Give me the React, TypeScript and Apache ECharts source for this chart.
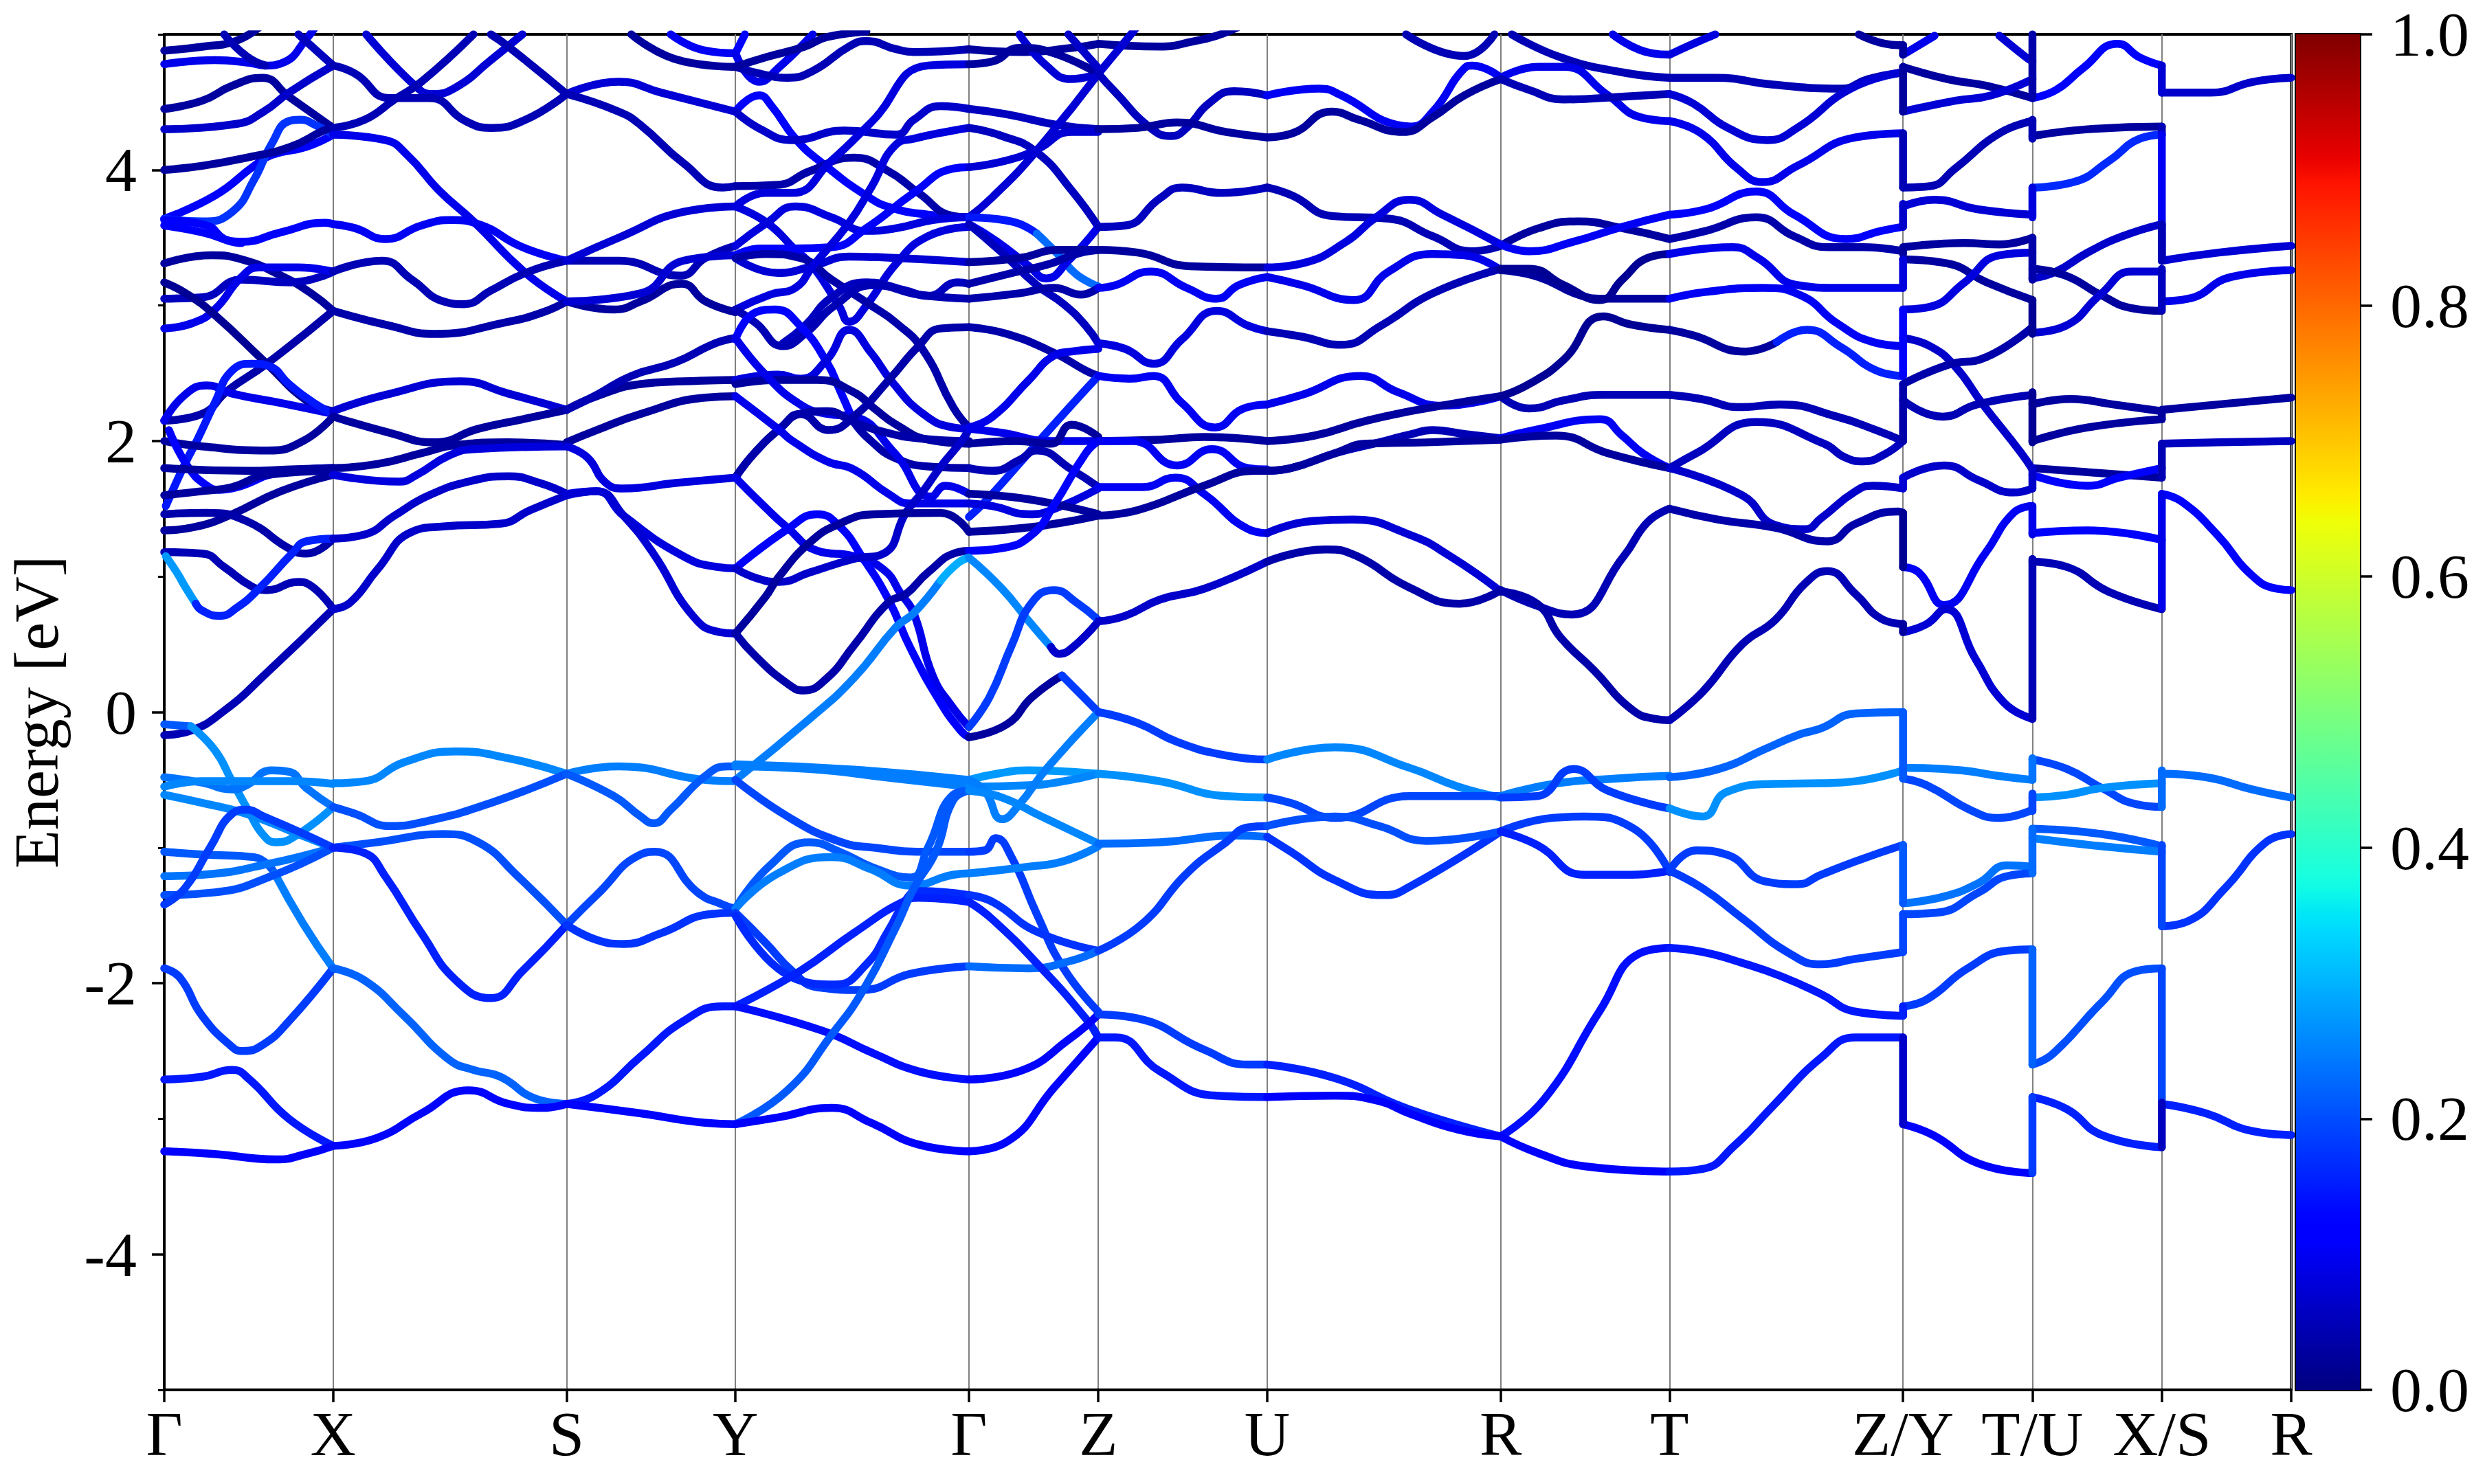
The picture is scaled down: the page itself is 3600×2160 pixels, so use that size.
import React, { useEffect, useRef } from "react";
import * as echarts from "echarts";

// High-symmetry points on the k-path
const kTicks = [0, 107, 255, 362, 510, 592, 699, 847, 954, 1102, 1184, 1266, 1348];
const kLabels = ["Γ", "X", "S", "Y", "Γ", "Z", "U", "R", "T", "Z/Y", "T/U", "X/S", "R"];
const energyMajor = [-4, -2, 0, 2, 4];
const energyMinor = [-5, -3, -1, 1, 3, 5];
const colorbarTicks = [0, 0.2, 0.4, 0.6, 0.8, 1];

// Every curve: [weight, k, E, k, E, ...]
const segGammaX: number[][] = [
  [0.03, 0, 4.88, 25, 4.91, 45, 4.95, 60, 5.05],
  [0.1, 0, 4.78, 32, 4.81, 54, 4.79, 64, 4.77, 75, 4.79, 91, 4.98, 98, 5.1],
  [0.05, 38, 5.0, 52, 4.84, 64, 4.77],
  [0.06, 85, 5.0, 107, 4.77],
  [0.03, 0, 4.45, 24, 4.51, 43, 4.62, 62, 4.68, 79, 4.54, 107, 4.31],
  [0.07, 0, 4.3, 46, 4.34, 63, 4.43, 79, 4.57, 107, 4.77],
  [0.12, 0, 3.64, 32, 3.81, 57, 4.03, 68, 4.11, 90, 4.17, 107, 4.26],
  [0.19, 0, 3.64, 24, 3.62, 43, 3.69, 57, 3.93, 68, 4.19, 79, 4.36, 86, 4.37, 96, 4.33, 107, 4.26],
  [0.03, 0, 4.0, 24, 4.03, 52, 4.09, 80, 4.17, 101, 4.29, 107, 4.31],
  [0.12, 0, 3.59, 24, 3.54, 49, 3.47, 74, 3.54, 102, 3.61, 107, 3.6],
  [0.13, 0, 3.63, 27, 3.59, 38, 3.49, 49, 3.46],
  [0.03, 0, 3.31, 30, 3.37, 49, 3.34, 74, 3.22, 93, 3.09, 107, 2.96],
  [0.06, 0, 3.05, 24, 3.06, 49, 3.19, 80, 3.17, 107, 3.25],
  [0.1, 0, 2.83, 18, 2.87, 32, 2.97, 49, 3.21, 60, 3.28, 85, 3.28, 107, 3.25],
  [0.02, 0, 3.17, 15, 3.08, 32, 2.93, 65, 2.57, 90, 2.3, 107, 2.22],
  [0.04, 0, 2.15, 24, 2.2, 40, 2.37, 65, 2.57, 107, 2.96],
  [0.1, 0, 2.15, 13, 2.34, 27, 2.41, 43, 2.35, 74, 2.28, 107, 2.2],
  [0.16, 1, 1.52, 13, 1.83, 21, 2.01, 32, 2.28, 43, 2.52, 56, 2.57, 67, 2.55, 79, 2.42, 95, 2.28, 107, 2.2],
  [0.03, 0, 2.0, 24, 1.96, 66, 1.93, 88, 2.0, 107, 2.18],
  [0.13, 3, 2.08, 15, 1.81, 27, 1.67, 35, 1.64, 43, 1.65, 74, 1.77, 107, 1.8],
  [0.03, 0, 1.8, 52, 1.78, 80, 1.79, 107, 1.8],
  [0.03, 0, 1.6, 24, 1.63, 43, 1.66, 65, 1.75, 107, 1.78],
  [0.03, 0, 1.34, 21, 1.37, 43, 1.46, 74, 1.63, 107, 1.75],
  [0.04, 0, 1.46, 27, 1.47, 52, 1.41, 82, 1.19, 90, 1.17, 107, 1.28],
  [0.05, 0, 1.18, 24, 1.17, 38, 1.07, 55, 0.93, 65, 0.9, 85, 0.96, 92, 0.94, 107, 0.76],
  [0.3, 1, 1.15, 8, 1.03, 13, 0.93, 20, 0.8],
  [0.17, 20, 0.8, 24, 0.75, 35, 0.71, 46, 0.77, 60, 0.91, 81, 1.17, 90, 1.26, 107, 1.28],
  [0.05, 0, -0.17, 16, -0.14, 38, 0.01, 65, 0.29, 107, 0.76],
  [0.23, 0, -0.09, 17, -0.105],
  [0.29, 17, -0.105, 32, -0.28, 43, -0.51, 53, -0.72, 63, -0.91, 71, -0.96, 85, -0.9, 107, -0.7],
  [0.26, 0, -0.48, 24, -0.52, 43, -0.57, 52, -0.54, 68, -0.43, 79, -0.44, 90, -0.56, 107, -0.7],
  [0.28, 0, -0.55, 24, -0.51, 80, -0.51, 107, -0.53],
  [0.28, 0, -0.61, 24, -0.67, 52, -0.75, 85, -0.9, 107, -1.0],
  [0.23, 0, -1.03, 24, -1.05, 57, -1.07, 70, -1.19],
  [0.27, 70, -1.19, 88, -1.56, 107, -1.89],
  [0.26, 0, -1.21, 24, -1.2, 66, -1.12, 107, -1.0],
  [0.22, 0, -1.35, 32, -1.33, 70, -1.2, 107, -1.0],
  [0.2, 0, -1.42, 13, -1.3, 29, -1.0, 43, -0.75, 52, -0.72, 63, -0.77, 85, -0.88, 107, -1.0],
  [0.2, 0, -1.89, 10, -1.96, 24, -2.24, 43, -2.47, 50, -2.5, 63, -2.45, 79, -2.28, 107, -1.89],
  [0.16, 0, -2.71, 24, -2.69, 43, -2.64, 54, -2.71, 79, -3.0, 107, -3.2],
  [0.12, 0, -3.24, 32, -3.26, 71, -3.3, 90, -3.26, 107, -3.2],
];

const segXS: number[][] = [
  [0.08, 128, 5.0, 160, 4.61, 170, 4.56, 185, 4.61, 207, 4.81, 227, 5.0],
  [0.05, 107, 4.77, 121, 4.71, 143, 4.53, 168, 4.53, 191, 4.36, 207, 4.31, 229, 4.37, 255, 4.56],
  [0.05, 107, 4.31, 127, 4.37, 146, 4.52, 163, 4.65, 196, 5.0],
  [0.05, 207, 5.0, 218, 4.91, 255, 4.56],
  [0.1, 107, 4.26, 140, 4.22, 154, 4.11, 174, 3.85, 196, 3.62, 229, 3.24, 255, 3.03],
  [0.11, 107, 3.6, 121, 3.57, 140, 3.49, 163, 3.59, 182, 3.63, 199, 3.6, 227, 3.43, 255, 3.33],
  [0.05, 107, 3.25, 138, 3.33, 157, 3.19, 177, 3.03, 190, 3.01, 207, 3.11, 229, 3.24, 255, 3.33],
  [0.04, 107, 2.96, 143, 2.85, 171, 2.79, 218, 2.88, 240, 2.95, 255, 3.03],
  [0.08, 107, 2.22, 140, 2.34, 188, 2.44, 218, 2.35, 255, 2.23],
  [0.03, 107, 2.18, 143, 2.06, 171, 1.99, 199, 2.09, 227, 2.16, 255, 2.23],
  [0.03, 107, 1.8, 135, 1.83, 163, 1.91, 185, 1.97, 218, 1.99, 255, 1.97],
  [0.09, 107, 1.75, 149, 1.7, 160, 1.75, 180, 1.89, 196, 1.94, 255, 1.96],
  [0.07, 107, 1.28, 127, 1.31, 146, 1.45, 168, 1.6, 196, 1.71, 218, 1.74, 238, 1.69, 255, 1.61],
  [0.07, 107, 0.76, 118, 0.81, 135, 1.05, 157, 1.33, 177, 1.37, 213, 1.39, 232, 1.49, 255, 1.6],
  [0.28, 107, -0.525, 127, -0.51, 152, -0.37, 185, -0.29, 218, -0.34, 255, -0.455],
  [0.22, 107, -0.7, 121, -0.75, 143, -0.84, 168, -0.8, 207, -0.67, 255, -0.455],
  [0.22, 107, -1.0, 135, -0.96, 177, -0.9, 199, -0.96, 224, -1.21, 255, -1.57],
  [0.17, 107, -1.0, 127, -1.04, 140, -1.21, 163, -1.63, 185, -1.98, 207, -2.11, 227, -1.91, 255, -1.57],
  [0.24, 107, -1.89, 127, -1.98, 152, -2.24, 180, -2.56, 196, -2.64, 213, -2.69, 235, -2.85, 255, -2.89],
  [0.14, 107, -3.2, 135, -3.14, 163, -2.96, 193, -2.79, 218, -2.89, 240, -2.92, 255, -2.89],
];

const segSY: number[][] = [
  [0.08, 255, 4.56, 288, 4.65, 315, 4.57, 362, 4.43],
  [0.05, 255, 4.56, 288, 4.43, 302, 4.33, 329, 4.05, 354, 3.87, 362, 3.88],
  [0.03, 296, 5.0, 329, 4.8, 362, 4.76],
  [0.11, 321, 5.0, 343, 4.88, 362, 4.86],
  [0.05, 255, 3.33, 288, 3.33, 327, 3.22, 343, 3.35, 362, 3.44],
  [0.08, 255, 3.33, 290, 3.51, 329, 3.69, 362, 3.73],
  [0.03, 255, 3.03, 285, 2.97, 302, 3.03, 328, 3.16, 343, 3.03, 362, 2.95],
  [0.08, 255, 3.03, 302, 3.09, 329, 3.33, 362, 3.37],
  [0.03, 255, 2.23, 274, 2.33, 302, 2.42, 329, 2.44, 362, 2.45],
  [0.05, 255, 2.23, 274, 2.34, 296, 2.48, 324, 2.58, 349, 2.72, 362, 2.76],
  [0.03, 255, 1.99, 274, 2.08, 302, 2.2, 343, 2.32, 362, 2.33],
  [0.09, 255, 1.96, 268, 1.88, 280, 1.69, 291, 1.65, 324, 1.69, 362, 1.73],
  [0.09, 255, 1.61, 274, 1.63, 291, 1.45, 329, 1.15, 351, 1.07, 362, 1.06],
  [0.08, 255, 1.6, 274, 1.63, 291, 1.45, 310, 1.17, 335, 0.71, 352, 0.59, 362, 0.58],
  [0.27, 255, -0.455, 288, -0.4, 343, -0.5, 362, -0.51],
  [0.23, 255, -0.455, 285, -0.62, 302, -0.77, 310, -0.82, 321, -0.72, 343, -0.47, 357, -0.4, 362, -0.4],
  [0.21, 255, -1.57, 274, -1.35, 302, -1.05, 311, -1.03, 338, -1.33, 354, -1.42, 362, -1.45],
  [0.19, 255, -1.57, 274, -1.68, 291, -1.71, 315, -1.63, 346, -1.49, 362, -1.48],
  [0.16, 255, -2.89, 274, -2.82, 302, -2.54, 329, -2.28, 354, -2.17, 362, -2.17],
  [0.14, 255, -2.89, 302, -2.96, 343, -3.03, 362, -3.04],
];

const segYGamma: number[][] = [
  [0.12, 362, 4.86, 368, 5.0],
  [0.1, 362, 4.86, 377, 4.65, 389, 4.75, 411, 5.0],
  [0.05, 362, 4.76, 381, 4.7, 395, 4.68, 411, 4.73, 434, 4.91, 445, 4.95, 464, 4.89, 475, 4.87, 510, 4.89],
  [0.03, 362, 4.76, 381, 4.83, 406, 4.91, 420, 4.98, 445, 5.02],
  [0.12, 362, 4.43, 377, 4.55, 385, 4.47, 400, 4.23, 417, 4.05, 445, 3.81, 461, 3.72, 484, 3.67, 510, 3.65],
  [0.07, 362, 4.43, 378, 4.3, 398, 4.22, 431, 4.29, 464, 4.26, 475, 4.37, 492, 4.47, 510, 4.45],
  [0.04, 362, 3.88, 389, 3.89, 409, 3.99, 437, 4.09, 459, 3.99, 478, 3.83, 500, 3.66, 510, 3.65],
  [0.09, 362, 3.73, 381, 3.83, 398, 3.83, 423, 4.07, 448, 4.35, 484, 4.77, 510, 4.78],
  [0.09, 362, 3.73, 382, 3.61, 400, 3.41, 411, 3.29, 428, 2.99, 434, 2.88, 445, 3.0, 464, 3.31, 484, 3.51, 510, 3.58],
  [0.09, 362, 3.44, 382, 3.61, 400, 3.73, 423, 3.65, 445, 3.55, 464, 3.57, 487, 3.63, 510, 3.65],
  [0.13, 362, 3.37, 378, 3.42, 398, 3.42, 423, 3.43, 445, 3.57, 475, 3.83, 500, 4.01, 510, 4.02],
  [0.08, 362, 3.35, 389, 3.24, 411, 3.29, 434, 3.36, 464, 3.35, 510, 3.32],
  [0.04, 362, 3.35, 381, 3.38, 403, 3.35, 423, 3.19, 448, 3.0, 464, 2.87, 481, 2.67, 500, 2.25, 510, 2.1],
  [0.09, 362, 2.97, 384, 3.08, 400, 3.13, 411, 3.29, 434, 3.61, 448, 3.87, 464, 4.19, 475, 4.23, 495, 4.28, 510, 4.31],
  [0.06, 392, 2.72, 406, 2.85, 423, 3.06, 445, 3.17, 470, 3.11, 484, 3.07, 503, 3.17, 510, 3.16],
  [0.05, 362, 2.97, 375, 2.87, 392, 2.7, 406, 2.79, 425, 3.0, 450, 3.15, 478, 3.08, 510, 3.05],
  [0.13, 362, 2.75, 375, 2.95, 387, 2.97, 403, 2.85, 420, 2.58, 428, 2.38, 437, 2.14],
  [0.04, 437, 2.14, 447, 2.01, 464, 1.87, 487, 1.81, 510, 1.8],
  [0.09, 362, 2.45, 389, 2.49, 403, 2.46, 420, 2.6, 434, 2.82, 448, 2.65, 461, 2.44, 481, 2.2, 500, 2.1, 510, 2.09],
  [0.03, 362, 2.42, 389, 2.45, 414, 2.45, 437, 2.36, 450, 2.24, 464, 2.12, 484, 2.01, 510, 1.98],
  [0.1, 362, 2.76, 381, 2.49, 403, 2.27, 420, 2.2, 437, 2.18, 463, 1.91, 486, 1.59, 495, 1.67, 510, 1.61],
  [0.04, 362, 1.73, 374, 1.91, 391, 2.1, 403, 2.2, 420, 2.22, 437, 2.14, 455, 2.07, 478, 2.02, 510, 2.0],
  [0.04, 362, 1.73, 374, 1.91, 391, 2.1, 403, 2.2, 421, 2.08, 437, 2.18, 460, 2.46, 478, 2.7, 492, 2.83, 510, 2.84],
  [0.1, 362, 1.73, 381, 1.51, 395, 1.36, 414, 1.19, 437, 1.15, 456, 1.05, 467, 0.87, 475, 0.73, 487, 0.27, 500, 0.03, 510, -0.11],
  [0.1, 362, 2.33, 390, 2.08, 397, 2.01, 420, 1.85, 437, 1.79, 459, 1.61, 473, 1.54, 510, 1.54],
  [0.12, 362, 1.06, 395, 1.35, 414, 1.46, 428, 1.37, 442, 1.15, 459, 0.83, 473, 0.47, 492, 0.07, 505, -0.14, 510, -0.185],
  [0.07, 362, 1.06, 375, 0.99, 389, 0.96, 409, 1.03, 437, 1.13, 456, 1.17, 470, 1.47, 481, 1.63, 492, 1.81, 506, 2.01, 510, 2.09],
  [0.03, 362, 0.58, 381, 0.85, 389, 0.99, 409, 1.25, 428, 1.39, 450, 1.46, 492, 1.47, 510, 1.33],
  [0.04, 362, 0.58, 375, 0.41, 395, 0.21, 405, 0.16, 420, 0.25, 437, 0.49, 459, 0.81, 470, 0.87, 484, 1.03, 503, 1.18, 510, 1.19],
  [0.27, 362, -0.5, 409, -0.05, 437, 0.25, 464, 0.63, 475, 0.73, 492, 0.97],
  [0.32, 492, 0.97, 503, 1.1, 510, 1.14],
  [0.27, 362, -0.385, 437, -0.425, 510, -0.5],
  [0.27, 362, -0.4, 409, -0.42, 464, -0.49, 510, -0.55],
  [0.21, 362, -0.5, 395, -0.77, 428, -0.955, 450, -1.0, 481, -1.03, 510, -1.03],
  [0.23, 362, -1.45, 384, -1.13, 409, -0.96, 428, -1.03, 450, -1.15, 473, -1.22, 484, -1.0, 500, -0.61, 510, -0.58],
  [0.27, 362, -1.45, 389, -1.19, 423, -1.07, 448, -1.16, 473, -1.28, 500, -1.2, 510, -1.19],
  [0.2, 362, -1.48, 381, -1.7, 398, -1.91, 414, -2.03, 442, -2.05, 473, -1.93, 510, -1.875],
  [0.18, 362, -1.5, 403, -1.98, 425, -2.01, 445, -1.86, 459, -1.61, 471, -1.37, 478, -1.32, 510, -1.35],
  [0.17, 362, -2.17, 403, -1.91, 437, -1.63, 470, -1.39, 478, -1.37, 510, -1.4],
  [0.15, 362, -2.17, 417, -2.35, 450, -2.52, 478, -2.65, 510, -2.71],
  [0.23, 362, -3.04, 395, -2.79, 423, -2.38, 442, -2.07, 464, -1.58, 475, -1.3, 489, -1.03, 500, -0.65, 510, -0.58],
  [0.13, 362, -3.04, 389, -2.99, 423, -2.92, 448, -3.03, 478, -3.19, 510, -3.24],
];

const segGammaZ: number[][] = [
  [0.03, 510, 4.89, 545, 4.87, 575, 4.9, 592, 4.93],
  [0.08, 542, 5.0, 559, 4.77, 575, 4.67, 592, 4.71],
  [0.03, 510, 4.78, 525, 4.8, 542, 4.9, 564, 4.86, 592, 4.71],
  [0.07, 573, 5.0, 592, 4.75],
  [0.06, 510, 4.45, 534, 4.41, 567, 4.33, 592, 4.3],
  [0.06, 510, 4.31, 531, 4.25, 553, 4.13, 575, 3.85, 592, 3.58],
  [0.08, 510, 4.02, 534, 4.07, 553, 4.15, 575, 4.28, 592, 4.28],
  [0.08, 510, 3.65, 525, 3.8, 552, 4.13, 592, 4.71],
  [0.16, 510, 3.65, 537, 3.62, 553, 3.53],
  [0.25, 553, 3.53, 567, 3.37, 578, 3.23, 592, 3.14],
  [0.1, 510, 3.6, 528, 3.47, 548, 3.29, 559, 3.2, 573, 3.33, 592, 3.58],
  [0.06, 510, 3.6, 530, 3.4, 553, 3.15, 570, 3.01, 584, 2.85, 592, 2.72],
  [0.03, 510, 3.32, 542, 3.35, 567, 3.41, 592, 3.41],
  [0.04, 510, 3.16, 534, 3.23, 562, 3.31, 578, 3.38, 592, 3.41],
  [0.04, 510, 3.05, 542, 3.09, 564, 3.13, 581, 3.08, 592, 3.13],
  [0.04, 510, 2.84, 534, 2.79, 564, 2.65, 584, 2.52, 592, 2.48],
  [0.1, 510, 2.1, 525, 2.18, 548, 2.45, 564, 2.63, 575, 2.66, 592, 2.68],
  [0.17, 510, 1.44, 520, 1.55, 531, 1.69, 553, 1.98, 573, 2.24, 592, 2.48],
  [0.1, 510, 2.09, 531, 2.06, 562, 2.0, 592, 2.0],
  [0.03, 510, 1.98, 540, 2.0, 562, 1.98, 575, 2.12, 592, 2.03],
  [0.05, 510, 1.8, 525, 1.78, 542, 1.86, 553, 1.93, 575, 1.79, 592, 1.66],
  [0.09, 510, 1.54, 525, 1.52, 548, 1.46, 562, 1.49, 592, 1.65],
  [0.03, 510, 1.61, 548, 1.57, 592, 1.46],
  [0.03, 510, 1.33, 553, 1.37, 592, 1.45],
  [0.12, 510, 1.19, 531, 1.21, 550, 1.31, 564, 1.53, 584, 1.91, 592, 2.0],
  [0.28, 510, 1.14, 531, 0.91, 548, 0.67, 562, 0.48],
  [0.07, 562, 0.48, 567, 0.43, 575, 0.47, 592, 0.67],
  [0.2, 510, -0.11, 523, 0.11, 537, 0.49, 550, 0.81, 564, 0.9, 578, 0.81, 592, 0.68],
  [0.03, 510, -0.185, 534, -0.09, 550, 0.11, 569, 0.27],
  [0.2, 569, 0.27, 581, 0.13, 592, 0.0],
  [0.3, 510, -0.5, 530, -0.45, 548, -0.43, 592, -0.455],
  [0.28, 510, -0.55, 548, -0.54, 570, -0.51, 592, -0.455],
  [0.27, 510, -0.5, 520, -0.58, 531, -0.79, 542, -0.68, 559, -0.42, 592, 0.0],
  [0.28, 510, -0.58, 531, -0.63, 556, -0.77, 592, -0.97],
  [0.2, 510, -1.03, 520, -1.02, 527, -0.93, 537, -1.07, 553, -1.49, 570, -1.89, 592, -2.21],
  [0.27, 510, -1.19, 548, -1.14, 570, -1.1, 592, -0.99],
  [0.19, 510, -1.35, 525, -1.4, 553, -1.62, 592, -1.76],
  [0.25, 510, -1.875, 548, -1.89, 573, -1.84, 592, -1.76],
  [0.17, 510, -1.4, 525, -1.53, 556, -1.89, 584, -2.26, 592, -2.4],
  [0.14, 510, -2.71, 542, -2.65, 575, -2.4, 592, -2.23],
  [0.14, 510, -3.24, 534, -3.17, 564, -2.77, 592, -2.4],
];

const segZU: number[][] = [
  [0.03, 592, 4.93, 631, 4.91, 653, 4.95, 667, 4.99, 680, 5.05],
  [0.08, 592, 4.71, 612, 4.99, 616, 5.05],
  [0.06, 592, 4.71, 603, 4.57, 625, 4.31, 638, 4.25, 648, 4.31, 662, 4.49, 678, 4.58, 699, 4.55],
  [0.03, 592, 4.3, 617, 4.31, 642, 4.35, 673, 4.28, 699, 4.24],
  [0.06, 592, 3.58, 609, 3.59, 631, 3.79, 645, 3.87, 670, 3.83, 699, 3.87],
  [0.03, 592, 3.41, 617, 3.39, 650, 3.29, 699, 3.28],
  [0.11, 592, 3.13, 603, 3.15, 625, 3.25, 648, 3.13, 667, 3.05, 681, 3.15, 699, 3.21],
  [0.09, 592, 2.72, 609, 2.68, 627, 2.57, 645, 2.75, 667, 2.96, 687, 2.85, 699, 2.81],
  [0.11, 592, 2.48, 612, 2.46, 627, 2.48, 645, 2.28, 666, 2.1, 684, 2.24, 699, 2.27],
  [0.03, 592, 2.0, 631, 2.01, 659, 2.03, 699, 2.0],
  [0.11, 592, 1.66, 620, 1.66, 641, 1.73, 659, 1.61, 687, 1.35, 699, 1.32],
  [0.11, 592, 2.0, 614, 2.0, 642, 1.82, 664, 1.94, 687, 1.8, 699, 1.79],
  [0.03, 592, 1.45, 617, 1.49, 659, 1.67, 692, 1.78, 699, 1.78],
  [0.07, 592, 0.67, 609, 0.71, 631, 0.83, 659, 0.91, 699, 1.11],
  [0.2, 592, 0.0, 617, -0.08, 642, -0.22, 673, -0.32, 699, -0.35],
  [0.29, 592, -0.455, 631, -0.51, 673, -0.62, 699, -0.63],
  [0.25, 592, -0.97, 631, -0.96, 678, -0.91, 699, -0.92],
  [0.2, 592, -1.76, 620, -1.56, 648, -1.19, 673, -0.96, 687, -0.85, 699, -0.84],
  [0.2, 592, -2.23, 617, -2.26, 659, -2.49, 687, -2.6, 699, -2.6],
  [0.16, 592, -2.4, 603, -2.4, 631, -2.65, 667, -2.83, 699, -2.84],
];

const segUR: number[][] = [
  [0.05, 787, 5.0, 824, 4.84, 843, 5.0],
  [0.11, 699, 4.55, 732, 4.6, 746, 4.55, 782, 4.33, 790, 4.32, 804, 4.43, 824, 4.75, 829, 4.77, 847, 4.68],
  [0.03, 699, 4.24, 715, 4.27, 740, 4.43, 757, 4.37, 785, 4.28, 804, 4.39, 824, 4.55, 847, 4.67],
  [0.05, 699, 3.87, 715, 3.81, 740, 3.66, 776, 3.64, 804, 3.51, 829, 3.4, 847, 3.44],
  [0.09, 699, 3.28, 721, 3.31, 749, 3.47, 768, 3.65, 789, 3.78, 810, 3.67, 847, 3.45],
  [0.1, 699, 3.21, 721, 3.15, 754, 3.04, 776, 3.25, 804, 3.38, 824, 3.37, 847, 3.26],
  [0.05, 699, 2.81, 721, 2.77, 746, 2.71, 771, 2.85, 804, 3.09, 847, 3.27],
  [0.1, 699, 2.27, 721, 2.34, 758, 2.48, 782, 2.36, 810, 2.26, 847, 2.33],
  [0.03, 699, 2.0, 729, 2.04, 762, 2.15, 804, 2.25, 847, 2.33],
  [0.05, 699, 1.78, 714, 1.8, 742, 1.91, 770, 1.99, 790, 2.05, 804, 2.08, 825, 2.05, 847, 2.02],
  [0.03, 699, 1.78, 714, 1.8, 742, 1.91, 762, 1.98, 800, 1.99, 847, 2.01],
  [0.08, 699, 1.32, 728, 1.41, 753, 1.42, 789, 1.31, 815, 1.15, 847, 0.89],
  [0.04, 699, 1.11, 736, 1.2, 756, 1.15, 789, 0.92, 821, 0.8, 847, 0.9],
  [0.28, 699, -0.35, 742, -0.26, 789, -0.41, 820, -0.55, 847, -0.63],
  [0.21, 699, -0.63, 714, -0.67, 742, -0.78, 789, -0.62, 820, -0.62, 847, -0.62],
  [0.19, 699, -0.92, 714, -1.03, 742, -1.24, 773, -1.35, 789, -1.29, 847, -0.88],
  [0.22, 699, -0.84, 742, -0.77, 770, -0.84, 800, -0.95, 847, -0.88],
  [0.17, 699, -2.6, 742, -2.7, 789, -2.93, 847, -3.13],
  [0.13, 699, -2.84, 742, -2.83, 770, -2.87, 789, -2.96, 820, -3.08, 847, -3.13],
];

const segRT: number[][] = [
  [0.05, 854, 5.0, 885, 4.83, 924, 4.72, 954, 4.68],
  [0.1, 918, 5.0, 943, 4.86, 954, 4.85],
  [0.1, 847, 4.68, 871, 4.76, 887, 4.76, 915, 4.55, 935, 4.39, 954, 4.36],
  [0.05, 847, 4.67, 865, 4.59, 887, 4.52, 924, 4.54, 954, 4.56],
  [0.03, 847, 3.44, 871, 3.57, 896, 3.62, 924, 3.57, 954, 3.49],
  [0.11, 847, 3.45, 865, 3.4, 893, 3.47, 924, 3.58, 954, 3.67],
  [0.03, 847, 3.26, 871, 3.21, 896, 3.08, 912, 3.05, 954, 3.05],
  [0.02, 847, 3.27, 865, 3.27, 887, 3.15, 910, 3.04, 924, 3.19, 940, 3.35, 954, 3.38],
  [0.05, 847, 2.33, 865, 2.24, 887, 2.3, 912, 2.34, 954, 2.34],
  [0.02, 847, 2.33, 865, 2.42, 887, 2.6, 912, 2.92, 929, 2.86, 954, 2.82],
  [0.11, 847, 2.02, 868, 2.08, 910, 2.16, 924, 2.04, 937, 1.91, 954, 1.8],
  [0.03, 847, 2.01, 882, 2.04, 915, 1.91, 954, 1.8],
  [0.05, 847, 0.9, 871, 0.78, 892, 0.72, 925, 1.15, 940, 1.4, 954, 1.5],
  [0.04, 847, 0.89, 870, 0.8, 885, 0.55, 906, 0.31, 930, 0.02, 945, -0.05, 954, -0.06],
  [0.27, 847, -0.62, 880, -0.53, 920, -0.49, 954, -0.47],
  [0.2, 847, -0.63, 870, -0.62, 893, -0.42, 915, -0.58, 954, -0.71],
  [0.2, 847, -0.88, 880, -0.78, 900, -0.77, 930, -0.85, 954, -1.18],
  [0.17, 847, -0.88, 870, -0.98, 900, -1.2, 930, -1.2, 954, -1.17],
  [0.15, 847, -3.13, 875, -2.85, 910, -2.2, 935, -1.78, 954, -1.74],
  [0.12, 847, -3.13, 870, -3.25, 900, -3.35, 954, -3.39],
];

const segTZ: number[][] = [
  [0.09, 954, 4.85, 969, 4.93, 983, 5.0],
  [0.03, 1074, 5.0, 1099, 4.92, 1102, 4.92],
  [0.05, 954, 4.68, 983, 4.68, 1019, 4.63, 1063, 4.6, 1080, 4.67, 1102, 4.72],
  [0.08, 954, 4.56, 969, 4.49, 991, 4.31, 1016, 4.22, 1035, 4.31, 1069, 4.6, 1102, 4.72],
  [0.1, 954, 4.36, 974, 4.27, 997, 4.01, 1013, 3.91, 1035, 4.03, 1072, 4.24, 1102, 4.27],
  [0.12, 954, 3.67, 977, 3.71, 1009, 3.84, 1033, 3.67, 1066, 3.49, 1088, 3.55, 1102, 3.58],
  [0.04, 954, 3.49, 977, 3.55, 1009, 3.65, 1033, 3.51, 1055, 3.43, 1077, 3.43, 1102, 3.4],
  [0.1, 954, 3.38, 994, 3.43, 1010, 3.35, 1035, 3.15, 1060, 3.13, 1102, 3.13],
  [0.11, 954, 3.05, 977, 3.1, 1013, 3.13, 1038, 3.07, 1060, 2.87, 1083, 2.73, 1102, 2.7],
  [0.03, 954, 2.82, 969, 2.78, 1002, 2.66, 1022, 2.73],
  [0.17, 1022, 2.73, 1041, 2.82, 1063, 2.69, 1085, 2.52, 1102, 2.48],
  [0.05, 954, 2.34, 974, 2.31, 999, 2.25, 1024, 2.27, 1060, 2.18, 1085, 2.08, 1102, 2.0],
  [0.06, 954, 1.8, 971, 1.91, 1009, 2.14, 1052, 1.98, 1065, 1.88, 1077, 1.85, 1090, 1.9, 1102, 2.0],
  [0.07, 954, 1.8, 1000, 1.6, 1021, 1.38, 1040, 1.35, 1050, 1.43, 1072, 1.63, 1083, 1.67, 1102, 1.65],
  [0.04, 954, 1.5, 985, 1.42, 1021, 1.36, 1054, 1.26, 1072, 1.39, 1099, 1.48, 1102, 1.47],
  [0.05, 954, -0.06, 975, 0.15, 1000, 0.5, 1021, 0.68, 1040, 0.95, 1054, 1.04, 1072, 0.87, 1088, 0.69, 1102, 0.65],
  [0.24, 954, -0.48, 985, -0.42, 1015, -0.27, 1035, -0.17, 1050, -0.12, 1072, -0.01, 1102, 0.0],
  [0.29, 954, -0.71, 975, -0.77, 990, -0.59, 1020, -0.53, 1050, -0.525, 1072, -0.51, 1102, -0.43],
  [0.2, 954, -1.17, 971, -1.02, 990, -1.05, 1015, -1.25, 1035, -1.27, 1050, -1.2, 1072, -1.1, 1102, -0.98],
  [0.2, 954, -1.17, 975, -1.3, 1000, -1.52, 1030, -1.78, 1050, -1.86, 1072, -1.82, 1102, -1.77],
  [0.16, 954, -1.74, 975, -1.77, 1000, -1.85, 1025, -1.95, 1050, -2.08, 1072, -2.21, 1102, -2.24],
  [0.16, 954, -3.39, 975, -3.37, 995, -3.2, 1020, -2.9, 1050, -2.55, 1072, -2.4, 1102, -2.4],
];

const segZYTU: number[][] = [
  [0.1, 1102, 4.85, 1122, 4.99],
  [0.08, 1163, 4.99, 1180, 4.83, 1184, 4.8],
  [0.03, 1102, 4.76, 1130, 4.67, 1155, 4.62, 1184, 4.53],
  [0.08, 1102, 4.43, 1135, 4.51, 1158, 4.55, 1184, 4.67],
  [0.05, 1102, 3.87, 1119, 3.88, 1135, 4.01, 1163, 4.27, 1184, 4.36],
  [0.08, 1102, 3.73, 1122, 3.78, 1149, 3.71, 1184, 3.67],
  [0.03, 1102, 3.43, 1141, 3.46, 1163, 3.45, 1184, 3.5],
  [0.03, 1102, 3.34, 1130, 3.31, 1155, 3.17, 1184, 3.04],
  [0.09, 1102, 2.97, 1119, 2.99, 1141, 3.17, 1163, 3.37, 1184, 3.39],
  [0.07, 1102, 2.76, 1119, 2.7, 1135, 2.55, 1152, 2.28, 1177, 1.91, 1184, 1.79],
  [0.04, 1102, 2.42, 1130, 2.56, 1155, 2.62, 1184, 2.84],
  [0.05, 1102, 2.3, 1127, 2.18, 1149, 2.27, 1184, 2.34],
  [0.07, 1102, 1.73, 1128, 1.82, 1150, 1.71, 1172, 1.62, 1184, 1.65],
  [0.11, 1102, 1.07, 1112, 1.03, 1128, 0.79, 1154, 1.17, 1172, 1.47, 1184, 1.52],
  [0.08, 1102, 0.59, 1117, 0.65, 1129, 0.76, 1148, 0.39, 1166, 0.07, 1184, -0.05],
  [0.27, 1102, -0.41, 1139, -0.43, 1162, -0.47, 1184, -0.5],
  [0.21, 1102, -0.49, 1117, -0.54, 1146, -0.73, 1163, -0.78, 1184, -0.72],
  [0.26, 1102, -1.41, 1128, -1.36, 1150, -1.26, 1168, -1.13, 1184, -1.14],
  [0.21, 1102, -1.49, 1123, -1.48, 1150, -1.33, 1168, -1.21, 1184, -1.19],
  [0.2, 1102, -2.17, 1117, -2.12, 1143, -1.89, 1168, -1.76, 1184, -1.75],
  [0.13, 1102, -3.04, 1121, -3.12, 1150, -3.33, 1184, -3.4],
];

const segTUXS: number[][] = [
  [0.12, 1184, 4.53, 1199, 4.59, 1216, 4.75, 1238, 4.93, 1252, 4.83, 1266, 4.77],
  [0.03, 1184, 4.25, 1219, 4.3, 1266, 4.32],
  [0.18, 1184, 3.87, 1210, 3.91, 1233, 4.07, 1252, 4.23, 1266, 4.26],
  [0.07, 1184, 3.2, 1199, 3.25, 1219, 3.39, 1241, 3.51, 1266, 3.6],
  [0.03, 1184, 3.27, 1205, 3.22, 1227, 3.08, 1247, 2.98, 1266, 2.96],
  [0.08, 1184, 2.8, 1205, 2.85, 1227, 3.08, 1247, 3.25, 1266, 3.25],
  [0.03, 1184, 2.27, 1208, 2.31, 1235, 2.27, 1266, 2.22],
  [0.03, 1184, 2.0, 1219, 2.1, 1266, 2.16],
  [0.03, 1184, 1.8, 1219, 1.77, 1266, 1.73],
  [0.12, 1184, 1.75, 1219, 1.67, 1239, 1.73, 1266, 1.8],
  [0.12, 1184, 1.32, 1219, 1.34, 1266, 1.27],
  [0.05, 1184, 1.11, 1206, 1.07, 1232, 0.89, 1266, 0.76],
  [0.21, 1184, -0.35, 1206, -0.42, 1228, -0.56, 1250, -0.68, 1266, -0.7],
  [0.29, 1184, -0.63, 1206, -0.61, 1228, -0.56, 1266, -0.525],
  [0.23, 1184, -0.86, 1228, -0.9, 1266, -0.99],
  [0.27, 1184, -0.93, 1228, -0.99, 1266, -1.03],
  [0.22, 1184, -2.6, 1197, -2.52, 1228, -2.14, 1250, -1.91, 1266, -1.89],
  [0.17, 1184, -2.84, 1206, -2.93, 1228, -3.12, 1266, -3.21],
];

const segXSR: number[][] = [
  [0.07, 1266, 4.57, 1297, 4.57, 1324, 4.65, 1348, 4.68],
  [0.08, 1266, 3.33, 1302, 3.39, 1348, 3.44],
  [0.1, 1266, 3.03, 1283, 3.05, 1310, 3.21, 1348, 3.26],
  [0.03, 1266, 2.23, 1302, 2.27, 1348, 2.32],
  [0.06, 1266, 1.98, 1302, 1.99, 1348, 2.0],
  [0.12, 1266, 1.61, 1279, 1.55, 1301, 1.31, 1323, 1.01, 1339, 0.91, 1348, 0.9],
  [0.25, 1266, -0.455, 1294, -0.48, 1323, -0.57, 1348, -0.63],
  [0.19, 1266, -1.58, 1283, -1.54, 1306, -1.3, 1332, -0.96, 1348, -0.9],
  [0.17, 1266, -2.89, 1294, -2.96, 1323, -3.09, 1348, -3.12],
];

// Vertical connections at the path discontinuities: [weight, E from, E to]
const jumpsZY: number[][] = [
  [0.03, 4.92, 4.85], [0.03, 4.76, 4.43], [0.05, 4.27, 3.87], [0.07, 3.75, 3.58], [0.03, 3.42, 3.38],
  [0.09, 3.34, 3.13], [0.12, 2.97, 2.48], [0.04, 2.42, 2.0], [0.08, 1.73, 1.65], [0.02, 1.47, 1.07],
  [0.03, 0.65, 0.59], [0.23, 0, -0.49], [0.23, -0.98, -1.41], [0.21, -1.49, -1.77], [0.17, -2.17, -2.24],
  [0.07, -2.4, -3.04],
];
const jumpsTU: number[][] = [
  [0.04, 5, 4.53], [0.05, 4.37, 4.23], [0.09, 3.87, 3.65], [0.04, 3.5, 3.19], [0.02, 3.04, 2.79],
  [0.02, 2.36, 1.99], [0.07, 1.8, 1.65], [0.1, 1.52, 1.31], [0.05, 1.13, -0.05], [0.26, -0.34, -0.5],
  [0.21, -0.6, -0.73], [0.25, -0.86, -1.19], [0.24, -1.75, -2.6], [0.2, -2.84, -3.4],
];
const jumpsXS: number[][] = [
  [0.08, 4.77, 4.57], [0.05, 4.32, 4.26], [0.11, 4.26, 3.33], [0.05, 3.6, 3.33], [0.06, 3.27, 2.97],
  [0.03, 2.23, 2.16], [0.05, 1.98, 1.73], [0.1, 1.61, 0.77], [0.25, -0.43, -0.7], [0.21, -0.98, -1.58],
  [0.21, -1.89, -2.88], [0.06, -2.88, -3.21],
];

const segments = [segGammaX, segXS, segSY, segYGamma, segGammaZ, segZU, segUR, segRT, segTZ, segZYTU, segTUXS, segXSR];

function seg(points: [number, number][], x: number) {
  for (let i = 1; i < points.length; i++) {
    if (x <= points[i][0]) {
      const [x0, y0] = points[i - 1];
      const [x1, y1] = points[i];
      return y0 + ((y1 - y0) * (x - x0)) / (x1 - x0);
    }
  }
  return points[points.length - 1][1];
}

function jet(v: number) {
  const r = seg([[0, 0], [0.35, 0], [0.66, 1], [0.89, 1], [1, 0.5]], v);
  const g = seg([[0, 0], [0.125, 0], [0.375, 1], [0.64, 1], [0.91, 0], [1, 0]], v);
  const b = seg([[0, 0.5], [0.11, 1], [0.34, 1], [0.65, 0], [1, 0]], v);
  return `rgb(${Math.round(r * 255)},${Math.round(g * 255)},${Math.round(b * 255)})`;
}

const FONT = "Liberation Serif";
const WEIGHT_SCALE = 0.92;

export default function App() {
  const ref = useRef<HTMLDivElement>(null);
  useEffect(() => {
    document.body.style.margin = "0";
    document.body.style.background = "#fff";
    const chart = echarts.init(ref.current!, null, { renderer: "svg" });

    const bandLine = (w: number, data: number[][]) => ({
      type: "line",
      xAxisIndex: 0,
      yAxisIndex: 0,
      data,
      smooth: 0.5,
      showSymbol: false,
      symbol: "none",
      silent: true,
      lineStyle: { color: jet(w * WEIGHT_SCALE), width: 11.5, cap: "round", join: "round" },
    });

    const series: any[] = [];
    for (const curves of segments) {
      for (const c of curves) {
        const pts: number[][] = [];
        for (let i = 1; i < c.length; i += 2) pts.push([c[i], c[i + 1]]);
        series.push(bandLine(c[0], pts));
      }
    }
    const jumpAt: [number, number[][]][] = [[kTicks[9], jumpsZY], [kTicks[10], jumpsTU], [kTicks[11], jumpsXS]];
    for (const [k, list] of jumpAt) {
      for (const [w, a, b] of list) {
        series.push({ ...bandLine(w, [[k, a], [k, b]]), smooth: false });
      }
    }

    const stops = [];
    for (let i = 0; i <= 100; i++) stops.push({ offset: i / 100, color: jet(1 - i / 100) });
    series.push({
      type: "bar",
      xAxisIndex: 1,
      yAxisIndex: 2,
      data: [1],
      barWidth: "100%",
      silent: true,
      itemStyle: { color: new echarts.graphic.LinearGradient(0, 0, 0, 1, stops) },
    });

    const labelFont = { fontFamily: FONT, fontSize: 92, color: "#000" };
    chart.setOption({
      animation: false,
      backgroundColor: "#fff",
      grid: [
        { left: 239, top: 50, width: 3095, height: 1973, show: true, borderColor: "#000", borderWidth: 4, backgroundColor: "transparent", outerBoundsMode: "none" },
        { left: 3341, top: 50, width: 93, height: 1973, show: true, borderColor: "#000", borderWidth: 4, backgroundColor: "transparent", outerBoundsMode: "none" },
      ],
      xAxis: [
        {
          type: "value",
          gridIndex: 0,
          min: 0,
          max: 1348,
          axisLine: { show: true, onZero: false, lineStyle: { color: "#000", width: 4 } },
          axisTick: { show: true, length: 18, customValues: kTicks, lineStyle: { color: "#000", width: 3.5 } },
          splitLine: { show: true, lineStyle: { color: "#808080", width: 2 } },
          axisLabel: {
            ...labelFont,
            margin: 18,
            customValues: kTicks,
            showMinLabel: true,
            showMaxLabel: true,
            hideOverlap: false,
            formatter: (v: number) => kLabels[kTicks.indexOf(v)] ?? "",
          },
        },
        { type: "category", gridIndex: 1, show: false, data: ["c"] },
      ],
      yAxis: [
        {
          type: "value",
          gridIndex: 0,
          min: -5,
          max: 5,
          position: "left",
          name: "Energy [eV]",
          nameLocation: "middle",
          nameRotate: 90,
          nameGap: 140,
          nameTextStyle: { ...labelFont },
          axisLine: { show: true, onZero: false, lineStyle: { color: "#000", width: 4 } },
          axisTick: { show: true, length: 18, customValues: energyMajor, lineStyle: { color: "#000", width: 3.5 } },
          splitLine: { show: false },
          axisLabel: { ...labelFont, margin: 40, customValues: energyMajor, formatter: (v: number) => String(v) },
        },
        {
          type: "value",
          gridIndex: 0,
          min: -5,
          max: 5,
          position: "left",
          axisLine: { show: false, onZero: false },
          axisTick: { show: true, length: 9, customValues: energyMinor, lineStyle: { color: "#000", width: 3 } },
          splitLine: { show: false },
          axisLabel: { show: false },
        },
        {
          type: "value",
          gridIndex: 1,
          min: 0,
          max: 1,
          position: "right",
          axisLine: { show: true, onZero: false, lineStyle: { color: "#000", width: 4 } },
          axisTick: { show: true, length: 18, customValues: colorbarTicks, lineStyle: { color: "#000", width: 3.5 } },
          splitLine: { show: false },
          axisLabel: { ...labelFont, margin: 44, customValues: colorbarTicks, formatter: (v: number) => v.toFixed(1) },
        },
      ],
      series,
    });
    return () => chart.dispose();
  }, []);
  return <div ref={ref} style={{ position: "fixed", left: 0, top: 0, width: 3600, height: 2160, background: "#fff" }} />;
}
